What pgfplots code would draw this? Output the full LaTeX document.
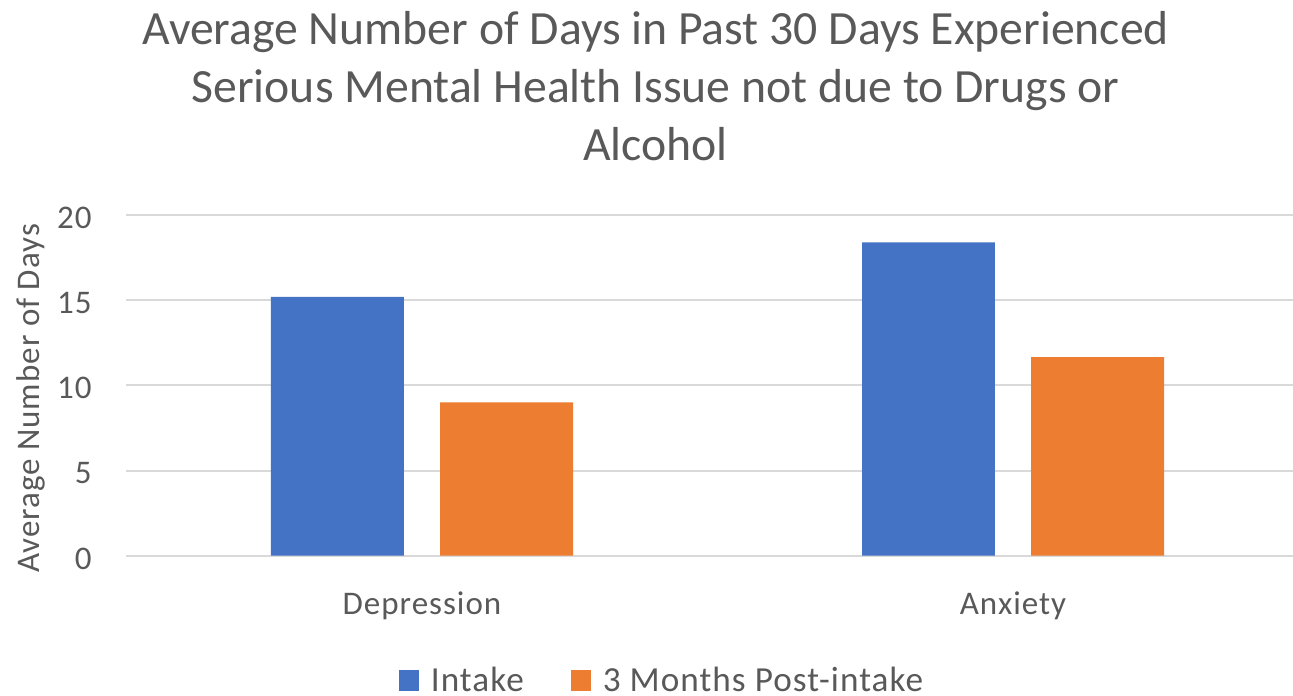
\documentclass[border=0pt]{standalone}
\usepackage{fontspec}
\setmainfont{Carlito}
\newfontfamily\smallfont[LetterSpace=3]{Carlito}
\usepackage{pgfplots}
\pgfplotsset{compat=1.18}
\definecolor{xlblue}{HTML}{4472C4}
\definecolor{xlorange}{HTML}{ED7D31}
\definecolor{gridgray}{HTML}{D9D9D9}
\definecolor{textgray}{HTML}{595959}
\begin{document}
\begin{tikzpicture}
  \begin{axis}[
      name=ax,
      scale only axis,
      width=583.25pt, height=170.35pt,
      xmin=-0.5, xmax=1.4738,
      ymin=0, ymax=20,
      xtick={0,1}, xticklabels={Depression, Anxiety},
      ytick={0,5,10,15,20},
      major tick length=0pt,
      axis line style={draw=none},
      ymajorgrids,
      grid style={gridgray, line width=1pt},
      /pgf/number format/assume math mode=true,
      tick label style={font=\smallfont\fontsize{16.5}{20}\selectfont, text=textgray},
      yticklabel style={anchor=east, inner sep=0pt, xshift=-17.25pt, yshift=-1.5pt},
      xticklabel style={anchor=base, inner sep=0pt, yshift=-29.15pt},
      ylabel={Average Number of Days},
      ylabel style={font=\smallfont\fontsize{16.5}{20}\selectfont, text=textgray, inner sep=0pt,
        at={([xshift=-43.25pt]axis description cs:0,0.4614)}, anchor=base},
      title={Average Number of Days in Past 30 Days Experienced\\Serious Mental Health Issue not due to Drugs or\\Alcohol},
      title style={font=\fontsize{23.85}{29}\selectfont, text=textgray, align=center,
        inner sep=0pt, at={(0.4535,1)}, anchor=north, yshift=96pt},
      legend style={draw=none, fill=none, inner sep=0pt, legend columns=-1,
        font=\smallfont\fontsize{17.6}{21}\selectfont, text=textgray,
        at={(0.4582,0)}, anchor=north, yshift=-55.3pt,
        cells={anchor=base west},
        nodes={inner sep=0pt},
        /tikz/every odd column/.append style={column sep=6pt},
        /tikz/every even column/.append style={column sep=23.5pt}},
    ]
    \addplot[ybar, bar width=0.225, bar shift=-0.143, fill=xlblue, draw=none,
      legend image code/.code={\fill[xlblue] (0pt,0pt) rectangle (10pt,10.5pt);}]
      coordinates {(0,15.2) (1,18.4)};
    \addplot[ybar, bar width=0.225, bar shift=0.143, fill=xlorange, draw=none,
      legend image code/.code={\fill[xlorange] (0pt,0pt) rectangle (10pt,10.5pt);}]
      coordinates {(0,9.0) (1,11.65)};
    \legend{Intake, 3 Months Post-intake}
  \end{axis}
  \pgfresetboundingbox
  \path[use as bounding box] ([shift={(-63.25pt,-69.65pt)}]ax.south west)
    rectangle ([shift={(0pt,107.5pt)}]ax.north east);
\end{tikzpicture}
\end{document}
